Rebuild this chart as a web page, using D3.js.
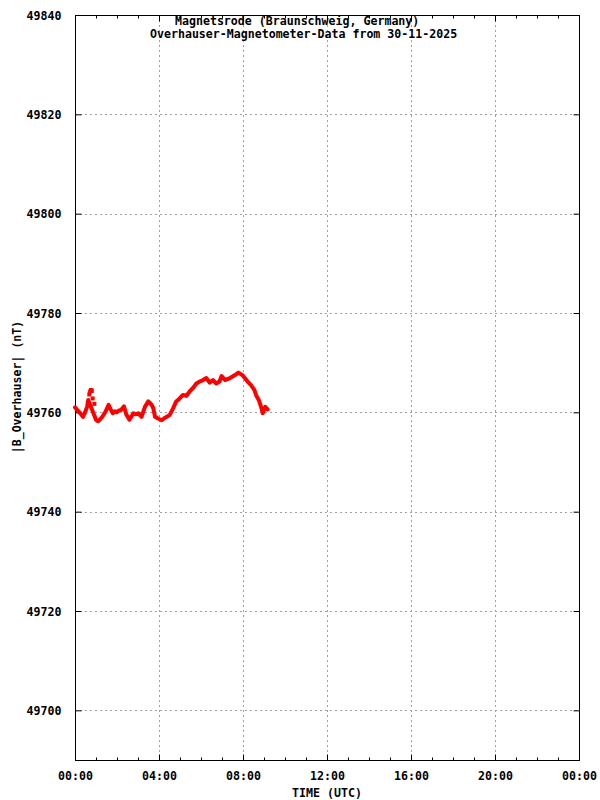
<!DOCTYPE html>
<html>
<head>
<meta charset="utf-8">
<script src="https://cdn.jsdelivr.net/npm/d3@7"></script>
<style>
body{margin:0;background:#fff;}
text{font-family:"DejaVu Sans Mono",monospace;font-weight:bold;font-size:11.6px;fill:#000;}
</style>
</head>
<body>
<svg id="chart" width="600" height="800"></svg>
<script>
//data------------------------------------------------
var hours=[0,0.08,0.25,0.38,0.49,0.58,0.63,
  1.0,1.1,1.2,1.3,1.45,1.6,1.7,1.8,1.9,1.98,2.1,2.2,2.33,2.45,2.59,2.78,2.9,3.02,3.17,3.33,3.49,3.65,3.73,3.81,3.97,
  4.13,4.25,4.37,4.51,4.67,4.82,4.98,5.14,5.3,5.46,5.62,5.78,5.94,6.1,6.25,6.41,6.57,6.73,6.88,6.98,7.14,7.38,7.62,7.78,7.97,
  8.22,8.38,8.54,8.62,8.75,8.86,8.94,9.06,9.17];
var bvals=[49761.0,49760.6,49759.8,49759.1,49760.1,49761.2,49762.5,
  49758.5,49758.2,49758.6,49759.1,49760.1,49761.5,49760.6,49759.8,49760.2,49760.0,49760.4,49760.5,49761.2,49759.5,49758.5,49759.8,49759.6,49759.8,49759.1,49761.1,49762.2,49761.5,49760.8,49759.1,49758.7,
  49758.4,49758.8,49759.1,49759.5,49760.8,49762.2,49762.8,49763.5,49763.3,49764.2,49764.9,49765.8,49766.2,49766.5,49766.9,49766.0,49766.5,49765.8,49766.2,49767.3,49766.5,49766.9,49767.5,49768.0,49767.5,
  49766.2,49765.5,49764.5,49763.5,49762.5,49761.1,49759.8,49761.1,49760.6];
//loose points around 00:45
var spikeHours=[0.68,0.72,0.76,0.8,0.84,0.92];
var spikeVals=[49763.6,49764.2,49764.5,49764.3,49762.8,49761.7];

var yTicks=[49700,49720,49740,49760,49780,49800,49820,49840];
var xTicks=[0,4,8,12,16,20,24];
var xTickLabels=['00:00','04:00','08:00','12:00','16:00','20:00','00:00'];
var titleLines=['Magnetsrode (Braunschweig, Germany)','Overhauser-Magnetometer-Data from 30-11-2025'];

//layout
var pLeft=75,pRight=579,pTop=15,pBottom=760;
var svg=d3.select('#chart');

var x=d3.scaleLinear().domain([0,24]).range([pLeft,pRight]);
var y=d3.scaleLinear().domain([49690,49840]).range([pBottom,pTop]);

//grid
var grid=svg.append('g').attr('stroke','#a0a0a0').attr('stroke-width',1).attr('stroke-dasharray','2,3');
grid.selectAll('.hg').data(yTicks.filter(d=>d<49840)).enter().append('line')
  .attr('x1',pLeft).attr('x2',pRight)
  .attr('y1',d=>Math.round(y(d))+0.5).attr('y2',d=>Math.round(y(d))+0.5);
grid.selectAll('.vg').data(xTicks.filter(d=>d>0&&d<24)).enter().append('line')
  .attr('y1',pTop).attr('y2',pBottom)
  .attr('x1',d=>Math.round(x(d))+0.5).attr('x2',d=>Math.round(x(d))+0.5);

//axes
var hourTicks=d3.range(0,25);
var axB=svg.append('g').attr('transform','translate(0,'+(pBottom+0.5)+')')
  .call(d3.axisBottom(x).tickValues(hourTicks).tickSizeInner(-3).tickSizeOuter(0).tickFormat(''));
var axB2=svg.append('g').attr('transform','translate(0,'+(pBottom+0.5)+')')
  .call(d3.axisBottom(x).tickValues(xTicks).tickSizeInner(-6).tickSizeOuter(0).tickPadding(16)
  .tickFormat((d,i)=>xTickLabels[i]));
var axT=svg.append('g').attr('transform','translate(0,'+(pTop+0.5)+')')
  .call(d3.axisTop(x).tickValues(hourTicks).tickSizeInner(-3).tickSizeOuter(0).tickFormat(''));
var axT2=svg.append('g').attr('transform','translate(0,'+(pTop+0.5)+')')
  .call(d3.axisTop(x).tickValues(xTicks).tickSizeInner(-6).tickSizeOuter(0).tickFormat(''));
var axL=svg.append('g').attr('transform','translate('+(pLeft+0.5)+',0)')
  .call(d3.axisLeft(y).tickValues(yTicks).tickSizeInner(-6).tickSizeOuter(0).tickPadding(14).tickFormat(d3.format('d')));
var axR=svg.append('g').attr('transform','translate('+(pRight+0.5)+',0)')
  .call(d3.axisRight(y).tickValues(yTicks).tickSizeInner(-6).tickSizeOuter(0).tickFormat(''));
[axB,axB2,axT,axT2,axL,axR].forEach(function(a){
  a.select('.domain').remove();
  a.selectAll('line').attr('stroke','#000');
  a.selectAll('text').attr('font-family',null).attr('font-size',null).attr('fill','#000');
});
axB2.selectAll('text').attr('dy','0.32em');
axL.selectAll('text').attr('dy','0.35em');
//frame
svg.append('rect').attr('x',pLeft+0.5).attr('y',pTop+0.5).attr('width',pRight-pLeft).attr('height',pBottom-pTop)
  .attr('fill','none').attr('stroke','#000').attr('stroke-width',1);

//data
var pts=hours.map((h,i)=>({h:h,v:bvals[i]}));
var line=d3.line().x(d=>x(d.h)).y(d=>y(d.v));
svg.append('path').datum(pts).attr('d',line)
  .attr('fill','none').attr('stroke','#ff0000').attr('stroke-width',4)
  .attr('stroke-linejoin','round').attr('stroke-linecap','round');
svg.selectAll('.spike').data(spikeHours).enter().append('rect')
  .attr('x',d=>x(d)-2).attr('width',4).attr('height',4)
  .attr('y',(d,i)=>y(spikeVals[i])-2).attr('fill','#ff0000');

//labels
svg.append('text').attr('x',175).attr('y',25).text(titleLines[0]);
svg.append('text').attr('x',150).attr('y',38).text(titleLines[1]);
svg.append('text').attr('x',(pLeft+pRight)/2).attr('y',797).attr('text-anchor','middle').text('TIME (UTC)');
svg.append('text').attr('transform','translate(21,387) rotate(-90)').attr('text-anchor','middle').text('|B_Overhauser| (nT)');
</script>
</body>
</html>
